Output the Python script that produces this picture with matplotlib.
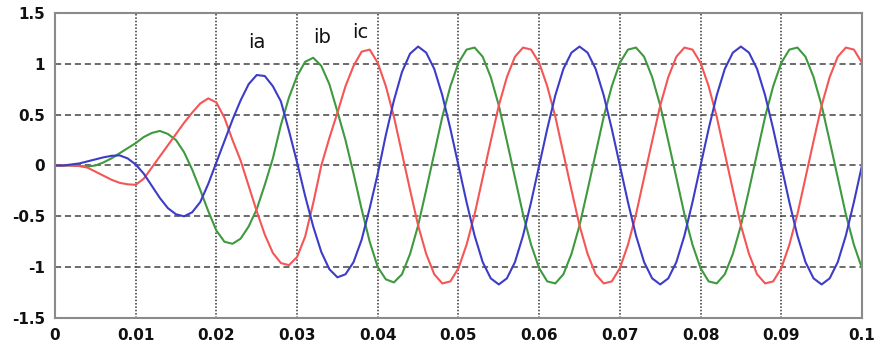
import matplotlib
matplotlib.use("Agg")
import matplotlib.pyplot as plt
import numpy as np

# time axis (ms), one sample per millisecond
t_ms = list(range(0, 101))

ia = [0, 0, 0.01, 0.02, 0.04, 0.06, 0.08, 0.095, 0.10, 0.07,
      0.01, -0.08, -0.20, -0.32, -0.42, -0.48, -0.50, -0.46, -0.36, -0.18,
      0.03, 0.24, 0.45, 0.64, 0.80, 0.89, 0.88, 0.78, 0.63, 0.34,
      0.03, -0.30, -0.60, -0.85, -1.02, -1.10, -1.07, -0.95, -0.73, -0.42,
      -0.08, 0.30, 0.64, 0.92, 1.10, 1.17, 1.11, 0.95, 0.69, 0.36,
      0, -0.36, -0.69, -0.95, -1.11, -1.17, -1.11, -0.95, -0.69, -0.36,
      0, 0.36, 0.69, 0.95, 1.11, 1.17, 1.11, 0.95, 0.69, 0.36,
      0, -0.36, -0.69, -0.95, -1.11, -1.17, -1.11, -0.95, -0.69, -0.36,
      0, 0.36, 0.69, 0.95, 1.11, 1.17, 1.11, 0.95, 0.69, 0.36,
      0, -0.36, -0.69, -0.95, -1.11, -1.17, -1.11, -0.95, -0.69, -0.36,
      0]

ib = [0, 0, 0, -0.005, -0.01, 0, 0.03, 0.07, 0.12, 0.17,
      0.22, 0.28, 0.32, 0.34, 0.31, 0.25, 0.13, -0.04, -0.24, -0.45,
      -0.64, -0.75, -0.77, -0.72, -0.60, -0.43, -0.19, 0.07, 0.40, 0.67,
      0.88, 1.02, 1.06, 0.98, 0.80, 0.53, 0.25, -0.08, -0.43, -0.75,
      -1.00, -1.12, -1.15, -1.07, -0.87, -0.59, -0.24, 0.12, 0.48, 0.78,
      1.01, 1.14, 1.16, 1.07, 0.87, 0.59, 0.24, -0.12, -0.48, -0.78,
      -1.01, -1.14, -1.16, -1.07, -0.87, -0.59, -0.24, 0.12, 0.48, 0.78,
      1.01, 1.14, 1.16, 1.07, 0.87, 0.59, 0.24, -0.12, -0.48, -0.78,
      -1.01, -1.14, -1.16, -1.07, -0.87, -0.59, -0.24, 0.12, 0.48, 0.78,
      1.01, 1.14, 1.16, 1.07, 0.87, 0.59, 0.24, -0.12, -0.48, -0.78,
      -1.01]

ic = [0, 0, 0, -0.005, -0.02, -0.06, -0.10, -0.14, -0.17, -0.185,
      -0.19, -0.13, -0.02, 0.09, 0.20, 0.31, 0.42, 0.52, 0.61, 0.66,
      0.62, 0.47, 0.25, 0.05, -0.20, -0.45, -0.68, -0.86, -0.96, -0.98,
      -0.90, -0.70, -0.37, 0.0, 0.27, 0.52, 0.78, 0.98, 1.12, 1.14,
      1.01, 0.78, 0.48, 0.12, -0.24, -0.59, -0.87, -1.07, -1.16, -1.14,
      -1.01, -0.78, -0.48, -0.12, 0.24, 0.59, 0.87, 1.07, 1.16, 1.14,
      1.01, 0.78, 0.48, 0.12, -0.24, -0.59, -0.87, -1.07, -1.16, -1.14,
      -1.01, -0.78, -0.48, -0.12, 0.24, 0.59, 0.87, 1.07, 1.16, 1.14,
      1.01, 0.78, 0.48, 0.12, -0.24, -0.59, -0.87, -1.07, -1.16, -1.14,
      -1.01, -0.78, -0.48, -0.12, 0.24, 0.59, 0.87, 1.07, 1.16, 1.14,
      1.01]

x_ticks = [0, 0.01, 0.02, 0.03, 0.04, 0.05, 0.06, 0.07, 0.08, 0.09, 0.1]
x_labels = ["0", "0.01", "0.02", "0.03", "0.04", "0.05", "0.06", "0.07", "0.08", "0.09", "0.1"]
y_ticks = [-1.5, -1, -0.5, 0, 0.5, 1, 1.5]
y_labels = ["-1.5", "-1", "-0.5", "0", "0.5", "1", "1.5"]

series_names = ["ia", "ib", "ic"]
label_pos = [(0.0250, 1.21), (0.0331, 1.26), (0.0378, 1.31)]

t = np.array(t_ms) / 1000.0

fig = plt.figure(figsize=(8.81, 3.44), dpi=100)
ax = fig.add_axes([0.0624, 0.0756, 0.9160, 0.8866])

kw = dict(lw=1.5, solid_joinstyle="round", solid_capstyle="round")
ax.plot(t, ib, color="#3f993f", **kw)
ax.plot(t, ic, color="#f55555", **kw)
ax.plot(t, ia, color="#3c3cc8", **kw)

ax.set_xlim(0, 0.1)
ax.set_ylim(-1.5, 1.5)
ax.set_xticks(x_ticks)
ax.set_xticklabels(x_labels)
ax.set_yticks(y_ticks)
ax.set_yticklabels(y_labels)

for xv in x_ticks[1:-1]:
    ax.axvline(xv, color="#333333", lw=1.1, ls=(0, (1, 1.2)), zorder=0)
for yv in y_ticks[1:-1]:
    ax.axhline(yv, color="#444444", lw=1.1, ls=(0, (4, 2.5)), zorder=0)

for s in ax.spines.values():
    s.set_color("#8a8a8a")
    s.set_linewidth(1.5)
ax.tick_params(length=0, pad=7, labelsize=11, colors="#111111")
for lbl in ax.get_xticklabels() + ax.get_yticklabels():
    lbl.set_fontweight("bold")

for name, (xp, yp) in zip(series_names, label_pos):
    ax.text(xp, yp, name, fontsize=14, ha="center", va="center", color="#111111")

fig.savefig("out.png", dpi=100)
